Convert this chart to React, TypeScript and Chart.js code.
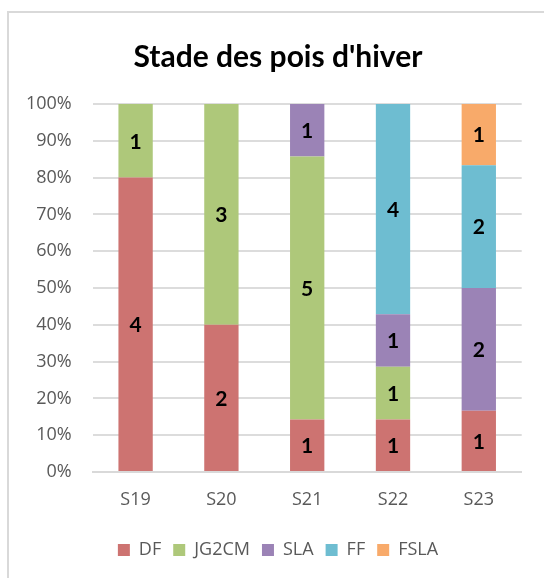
import React, { useEffect, useRef } from "react";
import { Chart, registerables } from "chart.js";

Chart.register(...registerables);

const TITLE = "Stade des pois d'hiver";
const CATEGORIES = ["S19", "S20", "S21", "S22", "S23"];
const SERIES_NAMES = ["DF", "JG2CM", "SLA", "FF", "FSLA"];
const DF = [4, 2, 1, 1, 1];
const JG2CM = [1, 3, 5, 1, 0];
const SLA = [0, 0, 1, 1, 2];
const FF = [0, 0, 0, 4, 2];
const FSLA = [0, 0, 0, 0, 1];
const COLORS = ["#CD7371", "#AEC87A", "#9B83B6", "#6EBDD1", "#F8AA6A"];
const Y_TICKS = [0, 10, 20, 30, 40, 50, 60, 70, 80, 90, 100];

const SERIES = [DF, JG2CM, SLA, FF, FSLA];

const valueLabels = {
  id: "valueLabels",
  afterDatasetsDraw(chart: any) {
    const ctx = chart.ctx;
    ctx.save();
    ctx.font = "bold 21px Lato";
    ctx.fillStyle = "#000000";
    ctx.textAlign = "center";
    ctx.textBaseline = "middle";
    chart.data.datasets.forEach((ds: any, i: number) => {
      const meta = chart.getDatasetMeta(i);
      if (meta.hidden) return;
      meta.data.forEach((el: any, j: number) => {
        const count = ds.counts[j];
        if (!count) return;
        const { x, y, base } = el.getProps(["x", "y", "base"], true);
        ctx.fillText(String(count), x, (y + base) / 2 + 1);
      });
    });
    ctx.restore();
  },
};

export default function App() {
  const ref = useRef<HTMLCanvasElement | null>(null);

  useEffect(() => {
    let chart: Chart | null = null;
    let cancelled = false;
    const totals = CATEGORIES.map((_, j) =>
      SERIES.reduce((s, arr) => s + arr[j], 0)
    );
    const build = () => {
      if (cancelled || !ref.current) return;
      chart = new Chart(ref.current, {
        type: "bar",
        data: {
          labels: CATEGORIES,
          datasets: SERIES.map((arr, i) => ({
            label: SERIES_NAMES[i],
            data: arr.map((v, j) => (v ? (v / totals[j]) * 100 : null)),
            counts: arr,
            backgroundColor: COLORS[i],
            borderWidth: 0,
            barPercentage: 1,
            categoryPercentage: 0.4,
          })) as any,
        },
        options: {
          responsive: false,
          animation: false,
          devicePixelRatio: 1,
          layout: { padding: { left: 0, right: 0, top: 0, bottom: 9 } },
          plugins: {
            title: {
              display: true,
              text: TITLE,
              color: "#000000",
              font: { family: "Lato", size: 30, weight: "bold", lineHeight: 1.2 },
              padding: { top: 39, bottom: 29 },
            },
            legend: {
              display: true,
              position: "bottom",
              labels: {
                boxWidth: 12,
                boxHeight: 12,
                padding: 12,
                color: "#595959",
                font: { family: "Open Sans", size: 18 },
              },
            },
            tooltip: { enabled: false },
          },
          scales: {
            x: {
              stacked: true,
              grid: { display: false, drawTicks: false },
              border: { display: true, color: "#D9D9D9", width: 2 },
              ticks: {
                color: "#595959",
                padding: 17,
                font: { family: "Open Sans", size: 18 },
              },
              afterFit(s: any) {
                s.height = 57;
              },
            },
            y: {
              stacked: true,
              min: 0,
              max: 100,
              afterBuildTicks(s: any) {
                s.ticks = Y_TICKS.map((v) => ({ value: v }));
              },
              grid: { color: "#DCDCDC", lineWidth: 2, drawTicks: false },
              border: { display: false },
              ticks: {
                color: "#595959",
                padding: 21,
                font: { family: "Open Sans", size: 18 },
                callback: (v: any) => v + "%",
              },
              afterFit(s: any) {
                s.width = 84.7;
              },
            },
            y2: {
              position: "right",
              display: true,
              grid: { display: false, drawTicks: false },
              border: { display: false },
              ticks: { display: false },
              afterFit(s: any) {
                s.width = 26.3;
              },
            },
          },
        } as any,
        plugins: [valueLabels],
      });
    };
    const fontsReady = (document as any).fonts
      ? Promise.all([
          (document as any).fonts.load("bold 30px Lato"),
          (document as any).fonts.load("bold 21px Lato"),
          (document as any).fonts.load("18px 'Open Sans'"),
        ]).catch(() => null)
      : Promise.resolve(null);
    fontsReady.then(build);
    return () => {
      cancelled = true;
      if (chart) chart.destroy();
    };
  }, []);

  return (
    <div>
      <div
        style={{
          position: "fixed",
          left: 7,
          top: 11,
          width: 600,
          height: 600,
          borderLeft: "2px solid #D9D9D9",
          borderTop: "2px solid #D9D9D9",
          boxSizing: "border-box",
        }}
      />
      <canvas
        ref={ref}
        width={540}
        height={578}
        style={{ position: "fixed", left: 8, top: 0, width: 540, height: 578 }}
      />
    </div>
  );
}
